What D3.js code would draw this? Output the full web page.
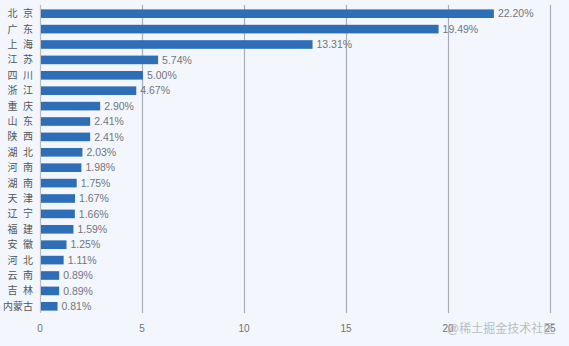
<!DOCTYPE html>
<html>
<head>
<meta charset="utf-8">
<script src="https://cdn.jsdelivr.net/npm/d3@7/dist/d3.min.js"></script>
<style>
  html, body { margin: 0; padding: 0; background: #f3f7fd; }
  svg { display: block; font-family: "Liberation Sans", "Noto Sans CJK SC", sans-serif; }
</style>
</head>
<body>
<svg id="chart" width="569" height="346"></svg>
<script>
// Provinces and their share (%)
const provinces = ["北京", "广东", "上海", "江苏", "四川", "浙江", "重庆", "山东", "陕西", "湖北",
                   "河南", "湖南", "天津", "辽宁", "福建", "安徽", "河北", "云南", "吉林", "内蒙古"];
const shares = [22.20, 19.49, 13.31, 5.74, 5.00, 4.67, 2.90, 2.41, 2.41, 2.03,
                1.98, 1.75, 1.67, 1.66, 1.59, 1.25, 1.11, 0.89, 0.89, 0.81];
const xTicks = [0, 5, 10, 15, 20, 25];

const data = provinces.map((p, i) => ({ name: p, value: shares[i] }));

const svg = d3.select("#chart");
const margin = { left: 40, right: 19, top: 6, bottom: 32 };
const W = 569, H = 346;

const x = d3.scaleLinear().domain([0, 25]).range([margin.left, W - margin.right]);
const y = d3.scaleBand().domain(provinces).range([margin.top, H - margin.bottom]).paddingInner(0.44).paddingOuter(0.22);

// vertical grid lines
svg.append("g").selectAll("line").data(xTicks).join("line")
  .attr("x1", d => x(d) + 0.5).attr("x2", d => x(d) + 0.5)
  .attr("y1", 5).attr("y2", 313)
  .attr("stroke", d => d === 0 ? "#b8bcc4" : "#a9adb5")
  .attr("stroke-width", 1.2);

// x tick labels
svg.append("g").selectAll("text").data(xTicks).join("text")
  .attr("x", d => x(d)).attr("y", 332)
  .attr("text-anchor", "middle")
  .attr("font-size", 10).attr("fill", "#6e7079")
  .text(d => d);

// bars
svg.append("g").selectAll("rect").data(data).join("rect")
  .attr("x", x(0) + 1).attr("y", d => y(d.name))
  .attr("width", d => x(d.value) - x(0))
  .attr("height", y.bandwidth())
  .attr("fill", "#2e6db7");

// category labels (two-character names are spread out)
svg.append("g").selectAll("text").data(data).join("text")
  .attr("x", 33).attr("y", d => y(d.name) + y.bandwidth() / 2)
  .attr("dy", "0.35em").attr("text-anchor", "end")
  .attr("font-size", 10).attr("fill", "#555")
  .attr("xml:space", "preserve")
  .text(d => d.name.length === 2 ? d.name[0] + "  " + d.name[1] : d.name);

// value labels
svg.append("g").selectAll("text").data(data).join("text")
  .attr("x", d => x(d.value) + 5).attr("y", d => y(d.name) + y.bandwidth() / 2)
  .attr("dy", "0.35em")
  .attr("font-size", 10.5).attr("fill", "#72757c")
  .text(d => d.value.toFixed(2) + "%");

// site mark
svg.append("text")
  .attr("x", 447).attr("y", 333)
  .attr("font-size", 12).attr("fill", "#b4b8bf").attr("opacity", 0.9)
  .text("@稀土掘金技术社区");
</script>
</body>
</html>
